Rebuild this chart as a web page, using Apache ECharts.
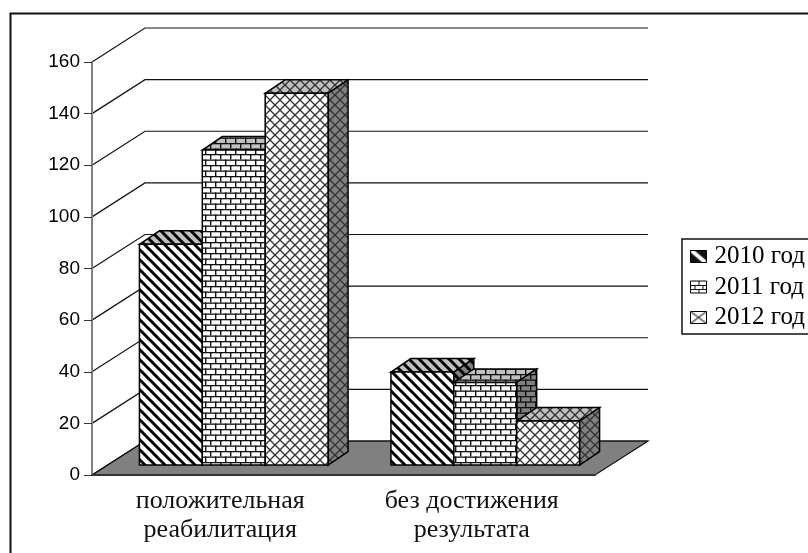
<!DOCTYPE html>
<html>
<head>
<meta charset="utf-8">
<script src="https://cdn.jsdelivr.net/npm/echarts@6/dist/echarts.min.js"></script>
<style>
  html, body { margin: 0; padding: 0; background: #fff; }
  #main { width: 808px; height: 553px; }
</style>
</head>
<body>
<div id="main"></div>
<script>
var categories = ["положительная\nреабилитация", "без достижения\nрезультата"];
var years = ["2010 год", "2011 год", "2012 год"];
var values2010 = [85.5, 36];
var values2011 = [122, 32];
var values2012 = [144, 17];
var yTicks = [0, 20, 40, 60, 80, 100, 120, 140, 160];

// смещения псевдо-3D
var WALL_DX = 53, WALL_DY = -34;
var BAR_SHIFT_DX = 16, BAR_SHIFT_DY = -10;
var BAR_DEPTH_DX = 20, BAR_DEPTH_DY = -13.5;
var BAR_RATIO = 0.25;

function makeTile(kind, bg) {
  var c = document.createElement("canvas");
  var ctx = c.getContext("2d");
  if (kind === "stripes") {
    c.width = 10; c.height = 10;
    ctx.fillStyle = bg; ctx.fillRect(0, 0, 10, 10);
    ctx.strokeStyle = "#000"; ctx.lineWidth = 3;
    [-10, 0, 10].forEach(function (o) {
      ctx.beginPath(); ctx.moveTo(o - 1, -1); ctx.lineTo(o + 11, 11); ctx.stroke();
    });
  } else if (kind === "bricks") {
    c.width = 10; c.height = 11;
    ctx.fillStyle = bg; ctx.fillRect(0, 0, 10, 11);
    ctx.fillStyle = "#111";
    ctx.fillRect(0, 0, 10, 1.3);
    ctx.fillRect(0, 5.5, 10, 1.3);
    ctx.fillRect(0, 0, 1.4, 5.5);
    ctx.fillRect(5, 5.5, 1.4, 5.5);
  } else {
    c.width = 10; c.height = 10;
    ctx.fillStyle = bg; ctx.fillRect(0, 0, 10, 10);
    ctx.strokeStyle = "#333"; ctx.lineWidth = 1.3;
    ctx.beginPath(); ctx.moveTo(-1, -1); ctx.lineTo(11, 11); ctx.stroke();
    ctx.beginPath(); ctx.moveTo(-1, 11); ctx.lineTo(11, -1); ctx.stroke();
  }
  return { image: c, repeat: "repeat" };
}

// маленькие значки легенды
function makeLegendTile(kind) {
  var c = document.createElement("canvas");
  c.width = 16; c.height = 12;
  var ctx = c.getContext("2d");
  ctx.fillStyle = kind === "stripes" ? "#111" : "#fff";
  ctx.fillRect(0, 0, 16, 12);
  if (kind === "stripes") {
    ctx.strokeStyle = "#fff"; ctx.lineWidth = 4;
    ctx.beginPath(); ctx.moveTo(1, 0); ctx.lineTo(15, 12); ctx.stroke();
  } else if (kind === "bricks") {
    ctx.fillStyle = "#111";
    ctx.fillRect(0, 4, 16, 1);
    ctx.fillRect(0, 8, 16, 1);
    ctx.fillRect(8, 0, 1, 4);
    ctx.fillRect(4, 4, 1, 4);
    ctx.fillRect(12, 4, 1, 4);
    ctx.fillRect(8, 8, 1, 4);
  } else {
    ctx.strokeStyle = "#333"; ctx.lineWidth = 1.2;
    ctx.beginPath(); ctx.moveTo(0, 0); ctx.lineTo(16, 12); ctx.stroke();
    ctx.beginPath(); ctx.moveTo(0, 12); ctx.lineTo(16, 0); ctx.stroke();
  }
  return { image: c, repeat: "repeat" };
}

var kinds = ["stripes", "bricks", "cross"];
var frontFill = kinds.map(function (k) { return makeTile(k, "#fff"); });
var topFill = kinds.map(function (k) { return makeTile(k, "#c0c0c0"); });
var sideFill = kinds.map(function (k) { return makeTile(k, "#808080"); });
var legendFill = kinds.map(makeLegendTile);

function renderBar(idx) {
  return function (params, api) {
    var cat = api.value(0);
    var band = api.size([1, 0])[0];
    var w = band * BAR_RATIO;
    var base = api.coord([cat, 0]);
    var top = api.coord([cat, api.value(1)]);
    var x0 = base[0] - 1.5 * w + idx * w + BAR_SHIFT_DX;
    var x1 = x0 + w;
    var y0 = top[1] + BAR_SHIFT_DY;
    var y1 = base[1] + BAR_SHIFT_DY;
    var line = { stroke: "#000", lineWidth: 1.5 };
    return {
      type: "group",
      children: [
        { type: "polygon", shape: { points: [[x0, y0], [x0 + BAR_DEPTH_DX, y0 + BAR_DEPTH_DY], [x1 + BAR_DEPTH_DX, y0 + BAR_DEPTH_DY], [x1, y0]] },
          style: Object.assign({ fill: topFill[idx] }, line) },
        { type: "polygon", shape: { points: [[x1, y0], [x1 + BAR_DEPTH_DX, y0 + BAR_DEPTH_DY], [x1 + BAR_DEPTH_DX, y1 + BAR_DEPTH_DY], [x1, y1]] },
          style: Object.assign({ fill: sideFill[idx] }, line) },
        { type: "polygon", shape: { points: [[x0, y0], [x1, y0], [x1, y1], [x0, y1]] },
          style: Object.assign({ fill: frontFill[idx] }, line) }
      ]
    };
  };
}

function renderFloor(params, api) {
  var cs = params.coordSys;
  var y = api.coord([0, 0])[1];
  return {
    type: "polygon",
    shape: { points: [[cs.x, y], [cs.x + WALL_DX, y + WALL_DY], [cs.x + cs.width + WALL_DX, y + WALL_DY], [cs.x + cs.width, y]] },
    style: { fill: "#808080", stroke: "#111", lineWidth: 1.2 }
  };
}

function renderWall(params, api) {
  var cs = params.coordSys;
  var y = api.coord([0, api.value(1)])[1];
  return {
    type: "polyline",
    shape: { points: [[cs.x, y], [cs.x + WALL_DX, y + WALL_DY], [cs.x + cs.width + WALL_DX, y + WALL_DY]] },
    style: { fill: null, stroke: "#111", lineWidth: 1.2 }
  };
}

function pairs(arr) {
  return arr.map(function (v, i) { return [i, v]; });
}

var myChart = echarts.init(document.getElementById("main"));

var option = {
  animation: false,
  backgroundColor: "#fff",
  grid: { left: 92, top: 62, width: 503, height: 413, containLabel: false },
  graphic: [{
    type: "polyline",
    silent: true,
    shape: { points: [[10.5, 553], [10.5, 13.5], [808, 13.5]] },
    style: { fill: null, stroke: "#111", lineWidth: 2 }
  }],
  legend: {
    orient: "vertical",
    left: 682,
    top: 239,
    padding: [5, 8, 4, 8],
    itemGap: 5.5,
    itemWidth: 16,
    itemHeight: 12,
    icon: "rect",
    borderColor: "#111",
    borderWidth: 1.5,
    backgroundColor: "#fff",
    selectedMode: false,
    textStyle: { fontFamily: "Liberation Serif", fontSize: 25, color: "#000", padding: [0, 0, 0, 3] },
    data: years.map(function (y, i) {
      return { name: y, itemStyle: { color: legendFill[i], borderColor: "#000", borderWidth: 1 } };
    })
  },
  xAxis: {
    type: "category",
    data: categories,
    z: 5,
    axisLine: { lineStyle: { color: "#333", width: 2 } },
    axisTick: { length: 6, lineStyle: { color: "#333", width: 1 } },
    axisLabel: { interval: 0, margin: 12, padding: [0, 0, 0, 5], fontFamily: "Liberation Serif", fontSize: 26, lineHeight: 29, color: "#111" }
  },
  yAxis: {
    type: "value",
    min: 0,
    max: 160,
    interval: 20,
    z: 5,
    splitLine: { show: false },
    axisLine: { show: true, lineStyle: { color: "#808080", width: 2 } },
    axisTick: { show: true, length: 8, lineStyle: { color: "#333", width: 1 } },
    axisLabel: { margin: 12, fontFamily: "Liberation Sans", fontSize: 19, color: "#000" }
  },
  series: [
    { type: "custom", silent: true, renderItem: renderFloor, encode: { x: 0, y: 1 }, data: [[0, 0]] },
    { type: "custom", silent: true, renderItem: renderWall, encode: { x: 0, y: 1 },
      data: yTicks.map(function (t) { return [0, t]; }) },
    { name: years[0], type: "custom", silent: true, renderItem: renderBar(0), encode: { x: 0, y: 1 }, data: pairs(values2010), itemStyle: { color: frontFill[0] } },
    { name: years[1], type: "custom", silent: true, renderItem: renderBar(1), encode: { x: 0, y: 1 }, data: pairs(values2011), itemStyle: { color: frontFill[1] } },
    { name: years[2], type: "custom", silent: true, renderItem: renderBar(2), encode: { x: 0, y: 1 }, data: pairs(values2012), itemStyle: { color: frontFill[2] } }
  ]
};
myChart.setOption(option);
</script>
</body>
</html>
